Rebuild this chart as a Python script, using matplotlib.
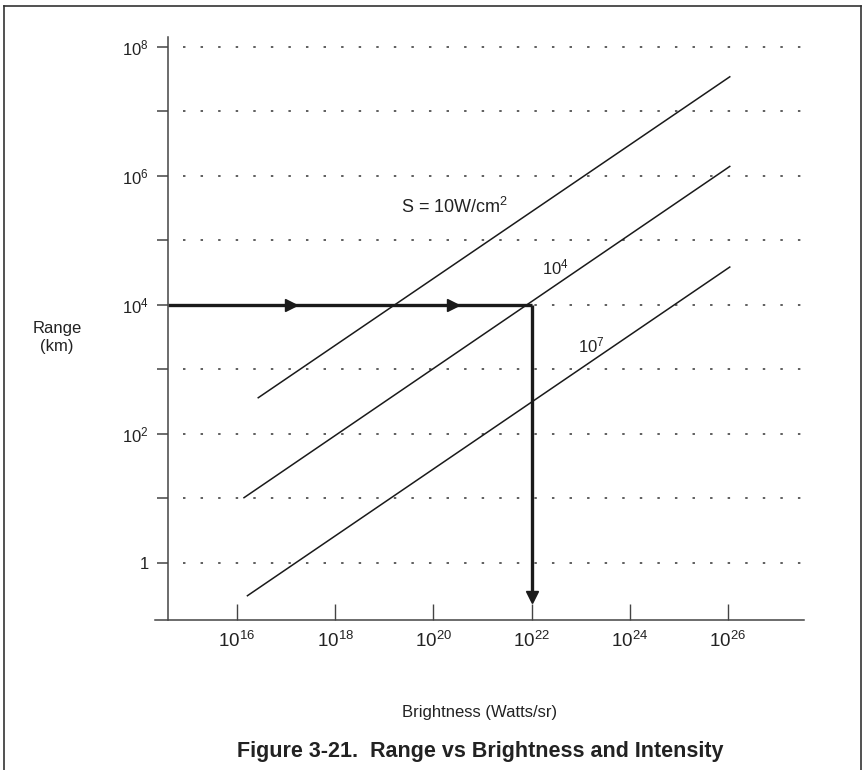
import matplotlib
matplotlib.use("Agg")
import matplotlib.pyplot as plt
from matplotlib.ticker import FixedLocator, NullLocator, FixedFormatter
from matplotlib.lines import Line2D

plt.rcParams['font.family'] = ['Liberation Sans', 'DejaVu Sans']
plt.rcParams['mathtext.fontset'] = 'custom'
plt.rcParams['mathtext.rm'] = 'Liberation Sans'
plt.rcParams['mathtext.it'] = 'Liberation Sans'
plt.rcParams['mathtext.bf'] = 'Liberation Sans:bold'

# ---- data (log10 values) ----
x_tick_exp = [16, 18, 20, 22, 24, 26]
x_tick_labels = ['$10^{16}$', '$10^{18}$', '$10^{20}$', '$10^{22}$', '$10^{24}$', '$10^{26}$']
y_tick_exp = [0, 1, 2, 3, 4, 5, 6, 7, 8]
y_tick_labels = ['1', '', '$10^{2}$', '', '$10^{4}$', '', '$10^{6}$', '', '$10^{8}$']

series_names = ['S = 10W/cm$^{2}$', '$10^{4}$', '$10^{7}$']
series_x_exp = [[16.42, 26.05], [16.13, 26.05], [16.20, 26.05]]
series_y_exp = [[2.55, 7.54], [1.0, 6.15], [-0.52, 4.59]]
label_pos_exp = [(20.44, 5.52), (22.48, 4.57), (23.21, 3.375)]
label_sizes = [13, 12, 12]

example_range_exp = 4      # 10^4 km
example_bright_exp = 22    # 10^22 W/sr
arrow_x_exp = [17.10, 20.39]
arrow_down_exp = -0.53

# ---- figure ----
fig = plt.figure(figsize=(8.63, 7.7), dpi=100)
ax = fig.add_axes([0.1722, 0.1948, 0.7737, 0.7613])
ax.set_xscale('log')
ax.set_yscale('log')
ax.set_xlim(10**14.2, 10**27.8)
ax.set_ylim(10**-0.89, 10**8.2)

axis_col = '#444444'
for s in ['top', 'right']:
    ax.spines[s].set_visible(False)
ax.spines['left'].set_position(('data', 10**14.596))
ax.spines['left'].set_bounds(10**-0.89, 10**8.15)
ax.spines['bottom'].set_bounds(10**14.33, 10**27.55)
for s in ['left', 'bottom']:
    ax.spines[s].set_color(axis_col)
    ax.spines[s].set_linewidth(1.1)

ax.xaxis.set_major_locator(FixedLocator([10.0**e for e in x_tick_exp]))
ax.xaxis.set_major_formatter(FixedFormatter(x_tick_labels))
ax.xaxis.set_minor_locator(NullLocator())
ax.yaxis.set_major_locator(FixedLocator([10.0**e for e in y_tick_exp]))
ax.yaxis.set_major_formatter(FixedFormatter(y_tick_labels))
ax.yaxis.set_minor_locator(NullLocator())

ax.tick_params(axis='x', direction='in', length=11.5, width=1.0, color=axis_col,
               labelsize=13.5, pad=8, labelcolor='#222222')
ax.tick_params(axis='y', direction='out', length=8, width=1.1, color=axis_col,
               labelsize=12, pad=6, labelcolor='#222222')

# dotted grid
ax.hlines([10.0**e for e in y_tick_exp], 10**14.9, 10**27.68,
          colors='#333333', linewidth=1.1, linestyles=[(0, (1.6, 9.9))])

# diagonal lines
for xs, ys in zip(series_x_exp, series_y_exp):
    ax.plot([10**v for v in xs], [10**v for v in ys], color='#1a1a1a', lw=1.1,
            solid_capstyle='butt')

for name, (lx, ly), fs in zip(series_names, label_pos_exp, label_sizes):
    ax.text(10**lx, 10**ly, name, ha='center', va='center', fontsize=fs,
            color='#222222')

# example path
thick = '#1a1a1a'
ax.plot([10**14.596, 10**example_bright_exp], [10**example_range_exp] * 2,
        color=thick, lw=2.4, solid_capstyle='butt')
ax.plot([10**example_bright_exp] * 2, [10**example_range_exp, 10**(arrow_down_exp - 0.05)],
        color=thick, lw=2.4, solid_capstyle='butt')
ax.plot([10**v for v in arrow_x_exp], [10**example_range_exp] * 2, linestyle='none',
        marker='>', markersize=9, color=thick)
ax.plot([10**example_bright_exp], [10**arrow_down_exp], linestyle='none',
        marker='v', markersize=9, color=thick)

# axis labels and caption
fig.text(57 / 863, 1 - 337.5 / 770, 'Range\n(km)', ha='center', va='center',
         fontsize=12, color='#222222', linespacing=1.25)
fig.text(480 / 863, 1 - 712 / 770, 'Brightness (Watts/sr)', ha='center', va='center',
         fontsize=12, color='#222222')
fig.text(480 / 863, 1 - 752 / 770, 'Figure 3-21.  Range vs Brightness and Intensity',
         ha='center', va='center', fontsize=15.5, fontweight='bold', color='#222222')

# frame
fig.add_artist(Line2D([3.5 / 863, 3.5 / 863], [0, 1 - 5.5 / 770], color='#333333', lw=1.2,
                      transform=fig.transFigure))
fig.add_artist(Line2D([3.5 / 863, 860.5 / 863], [1 - 5.5 / 770] * 2, color='#333333', lw=1.2,
                      transform=fig.transFigure))
fig.add_artist(Line2D([860.5 / 863, 860.5 / 863], [0, 1 - 5.5 / 770], color='#333333', lw=1.2,
                      transform=fig.transFigure))

fig.savefig('out.png', dpi=100)
